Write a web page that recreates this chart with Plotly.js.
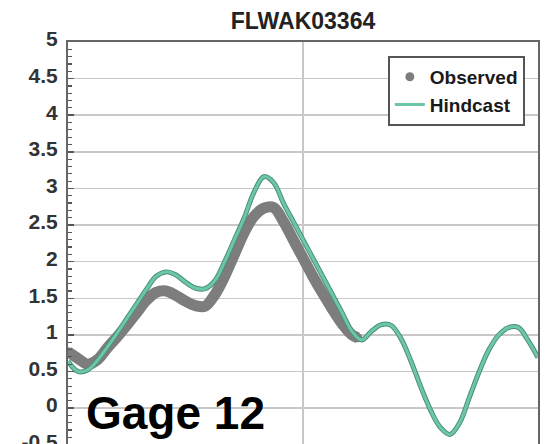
<!DOCTYPE html>
<html>
<head>
<meta charset="utf-8">
<script src="https://cdn.plot.ly/plotly-3.0.1.min.js"></script>
<style>
html,body{margin:0;padding:0;overflow:hidden;background:#fff;}
#chart{width:551px;height:470px;}
</style>
</head>
<body>
<div id="chart"></div>
<script>
// Hours since start of the window
var obsHours = [0,1,2,3,4,5,6,7,8,9,10,11,12,13,14,15,16,17,18,19,20,21,22,23,24,25,26,27,28,29,29.6];
var obsValues = [0.77,0.68,0.6,0.66,0.82,0.97,1.13,1.3,1.47,1.58,1.6,1.54,1.46,1.4,1.39,1.55,1.8,2.1,2.4,2.62,2.73,2.74,2.55,2.3,2.05,1.8,1.57,1.35,1.15,1.0,0.96];

var hindHours = [0,1,2,3,4,5,6,7,8,9,10,11,12,13,14,15,16,17,18,19,20,21,22,23,24,25,26,27,28,29,30,31,32,33,34,35,36,37,38,39,40,41,42,43,44,45,46,47,48];
var hindValues = [0.64,0.5,0.52,0.65,0.83,1.02,1.22,1.42,1.62,1.8,1.86,1.82,1.72,1.64,1.63,1.74,2.0,2.3,2.6,2.95,3.16,3.08,2.8,2.55,2.3,2.05,1.8,1.55,1.3,1.05,0.93,1.05,1.14,1.13,0.95,0.65,0.3,-0.02,-0.26,-0.36,-0.2,0.15,0.5,0.8,1.0,1.1,1.1,0.92,0.69];

var yTickVals = [-0.5,0,0.5,1,1.5,2,2.5,3,3.5,4,4.5,5];
var yTickText = ['-0.5','0','0.5','1','1.5','2','2.5','3','3.5','4','4.5','5'];

var chartTitle = 'FLWAK03364';
var gageLabel = 'Gage 12';
var obsName = 'Observed';
var hindName = 'Hindcast';

var fontFam = 'Liberation Sans, Arial, Helvetica, sans-serif';

var traces = [
  {x: obsHours, y: obsValues, type: 'scatter', mode: 'lines', line: {color: '#7d7d7d', width: 11, shape: 'spline'}, showlegend: false, hoverinfo: 'skip'},
  {x: obsHours, y: obsValues, type: 'scatter', mode: 'markers', name: obsName, marker: {color: '#7d7d7d', size: 9}},
  {x: hindHours, y: hindValues, type: 'scatter', mode: 'lines', line: {color: '#4d8f7a', width: 5, shape: 'spline'}, showlegend: false, hoverinfo: 'skip'},
  {x: hindHours, y: hindValues, type: 'scatter', mode: 'lines', name: hindName, line: {color: '#6cc7a8', width: 3, shape: 'spline'}}
];

var layout = {
  width: 551, height: 470,
  margin: {l: 68, r: 13, t: 42, b: 18},
  paper_bgcolor: '#ffffff', plot_bgcolor: '#ffffff',
  font: {family: fontFam, color: '#222', weight: 'bold'},
  title: {text: chartTitle, font: {size: 23, weight: 'bold', color: '#222', family: fontFam}, x: 0.5, xref: 'paper', xanchor: 'center', y: 1 - 21/470, yref: 'container', yanchor: 'middle'},
  xaxis: {
    range: [0, 48], dtick: 24, tick0: 0, showgrid: true, gridcolor: '#c8c8c8', gridwidth: 1.5,
    ticks: 'inside', ticklen: 8, tickcolor: '#555', showticklabels: false,
    minor: {dtick: 6, ticks: 'inside', ticklen: 6, tickcolor: '#555', showgrid: false},
    showline: true, linecolor: '#666', linewidth: 2, mirror: true, zeroline: false
  },
  yaxis: {
    range: [-0.6, 5], tickvals: yTickVals, ticktext: yTickText,
    showgrid: true, gridcolor: '#c8c8c8', gridwidth: 1.5,
    ticks: 'inside', ticklen: 6, tickcolor: '#555', tickwidth: 1.5,
    minor: {dtick: 0.1, tick0: 0, ticks: 'inside', ticklen: 4, tickcolor: '#555', tickwidth: 1.2, showgrid: false},
    tickfont: {size: 21, weight: 'bold', color: '#333', family: fontFam},
    ticklabelshift: -3, ticklabelstandoff: 4,
    showline: true, linecolor: '#666', linewidth: 2, mirror: true, zeroline: false
  },
  legend: {
    x: 0.972, xanchor: 'right', y: 0.966, yanchor: 'top',
    bgcolor: '#ffffff', bordercolor: '#555', borderwidth: 2,
    font: {size: 19, weight: 'bold', color: '#1a1a1a', family: fontFam},
    tracegroupgap: 0, itemwidth: 30
  },
  annotations: [
    {text: gageLabel, xref: 'paper', yref: 'y', x: 0.033, y: -0.07, xanchor: 'left', yanchor: 'middle', showarrow: false,
     font: {size: 46, weight: 'bold', color: '#000', family: fontFam}}
  ],
  showlegend: true
};

Plotly.newPlot('chart', traces, layout, {displayModeBar: false, staticPlot: true});
</script>
</body>
</html>
